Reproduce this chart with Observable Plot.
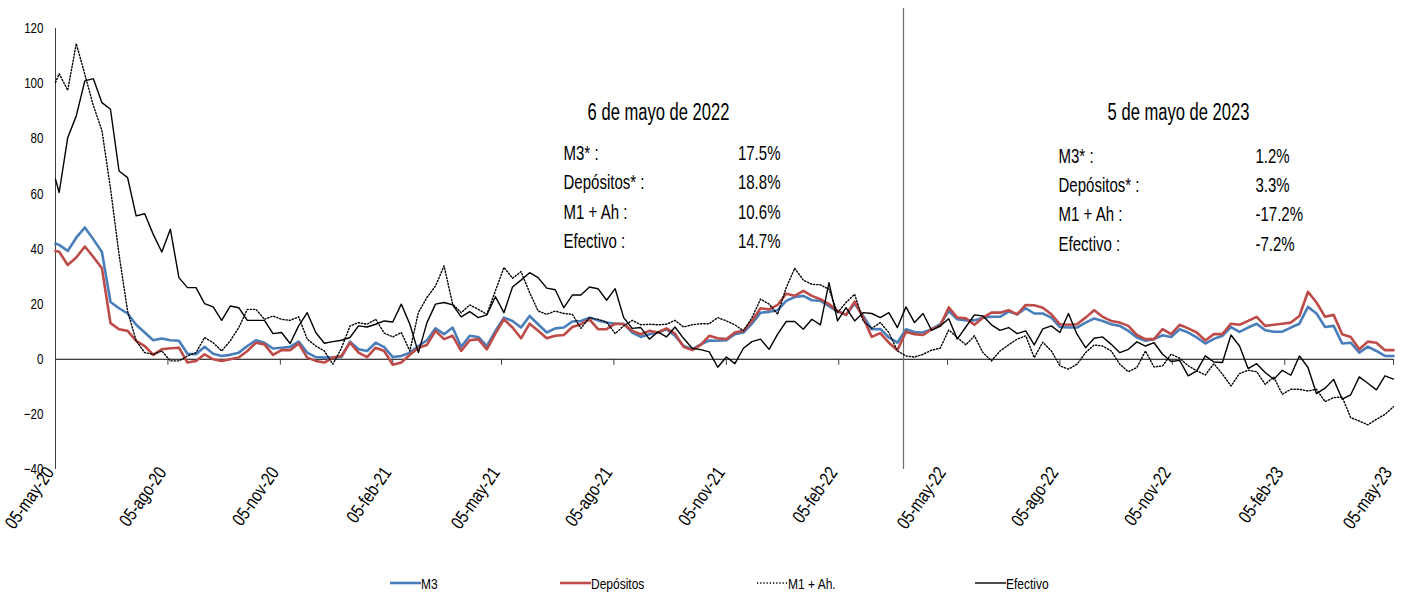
<!DOCTYPE html>
<html><head><meta charset="utf-8">
<script src="https://cdn.jsdelivr.net/npm/d3@7"></script>
<script src="https://cdn.jsdelivr.net/npm/@observablehq/plot@0.6"></script>
<style>
body{margin:0;background:#fff;}
#wrap{position:relative;width:1408px;height:594px;font-family:"Liberation Sans Narrow","Arial Narrow","Liberation Sans",Arial,sans-serif;background:#fff;}
#legend{position:absolute;left:0;top:566px;width:1408px;height:34px;}
.item{position:absolute;top:0;height:34px;display:flex;align-items:center;font-size:15px;color:#000;white-space:nowrap;}
.item span{display:inline-block;transform:scaleX(0.8);transform-origin:left center;}
#chart g[aria-label="x-axis tick label"], #chart g[aria-label="x-axis"] {font-size:18.5px;transform:translate(-5px,0);}
#chart g[aria-label="y-axis tick label"], #chart g[aria-label="y-axis"] {font-size:14.5px;}
</style></head><body><div id="wrap"><div id="chart"></div><div id="legend"></div></div>
<script>
// Weekly data (first point 05-may-20, then Fridays 08-may-20 ... 05-may-23), % annual change
const m3 = [
42, 41.5, 39.3, 44.1, 47.8, 43.5, 38.9, 20.8, 18.5, 16.6,
12.5, 9.7, 6.9, 7.5, 6.9, 6.7, 2, 1.8, 4.5, 2,
1.2, 1.6, 2.4, 4.8, 6.9, 6, 3.9, 4.2, 4.5, 6.4,
2.4, 0.8, 0.6, 0.6, 0.8, 6.4, 3.6, 3, 6, 4.4,
0.8, 1.2, 2.4, 4.8, 6.9, 11.2, 9.1, 11.5, 4.5, 8.5,
8.1, 4.8, 10.3, 15.1, 13.9, 11.5, 15.7, 12.7, 9.7, 11.2,
11.5, 13.7, 13.9, 15.1, 14.1, 13.3, 12.9, 12.9, 9.7, 8.1,
9.1, 9.7, 10.9, 8.5, 4.8, 3.6, 5.4, 6.8, 6.7, 6.9,
9.1, 9.7, 12.9, 16.9, 17.2, 17.8, 21.2, 22.6, 23, 21.4,
21.2, 19.3, 17.3, 16.1, 20.2, 15.7, 10.9, 11, 7.9, 6,
10.9, 9.9, 9.7, 10.9, 12.7, 17.5, 14.5, 14.1, 14.1, 15.1,
15.4, 15.4, 17.3, 16.3, 18.5, 16.6, 16.6, 15.1, 11.7, 11.5,
11.5, 13.3, 14.8, 13.9, 12.7, 12.1, 10.3, 7.9, 6.7, 7.3,
8.7, 8.1, 10.9, 9.7, 7.9, 5.7, 7.4, 8.5, 11.7, 9.9,
11.5, 12.9, 10.5, 10, 10, 11.5, 12.9, 19, 16.6, 11.7,
12.1, 5.7, 6, 2.4, 4.6, 3, 1.2, 1.2];
const depositos = [
39.3, 39, 34.2, 36.9, 40.9, 37.1, 33, 13.1, 10.9, 10.3,
6.7, 4.8, 1.6, 3.6, 4, 4.2, -1.2, -0.6, 1.8, 0,
-0.6, 0, 0.6, 3, 6, 5.4, 1.6, 3.3, 3.3, 5.7,
0.6, -0.6, -1.2, 0.6, 1.2, 6, 2.4, 0.8, 4.2, 3,
-2, -1.2, 1.6, 4.2, 5.2, 10.3, 7.3, 8.5, 3, 6.9,
7.3, 3.6, 9.3, 14.5, 11.5, 7.6, 12.9, 10.3, 7.6, 8.5,
8.8, 11.7, 12.7, 14.5, 10.9, 10.9, 12.9, 12.7, 10.3, 9.1,
10.3, 9.7, 11.2, 9.3, 4.5, 3.3, 5.2, 8.5, 7.6, 7.3,
9.7, 10.3, 13.9, 18.5, 18.1, 19.7, 23.8, 23, 24.8, 23,
21.8, 20, 17.5, 16.1, 20.9, 15.1, 8.1, 9.5, 6, 3.3,
10, 9.1, 8.8, 10.9, 12.1, 18.8, 15.1, 14.9, 12.5, 15.1,
16.9, 16.9, 17.8, 16.3, 19.7, 19.6, 18.7, 16.3, 12.7, 12.5,
12.7, 15.1, 17.8, 15.4, 13.9, 13.3, 12.1, 8.8, 7.3, 7.3,
10.9, 9.1, 12.5, 11.2, 9.7, 6.8, 9.1, 9.1, 12.9, 12.5,
13.9, 15.4, 12.1, 12.5, 12.9, 13.3, 15.7, 24.5, 20.6, 15.4,
16.1, 9.1, 8.1, 3.6, 6.4, 6, 3.3, 3.3];
const m1ah = [
100.4, 103.6, 97.6, 114.5, 103.4, 92, 83, 62, 38, 17.5,
6.7, 2.4, 1.8, 3, -0.6, -0.6, 1.2, 2.4, 7.9, 6,
3, 6.7, 11.5, 18.1, 18.1, 14.5, 15.7, 14.5, 14.1, 15.4,
7.3, 4.8, 3, -1.8, 4, 12.1, 13.3, 12.7, 14.5, 9.5,
8.1, 9.7, 3, 17, 22.4, 26.6, 33.9, 20, 16.9, 19.7,
18.1, 16.3, 24.8, 33.3, 29.4, 31.8, 24.2, 17.5, 16.3, 17.5,
16.6, 16.3, 11.2, 15.1, 14.5, 13.5, 9.3, 12.1, 14.1, 12.5,
12.7, 12.5, 12.7, 14.1, 11.7, 12.5, 12.9, 12.9, 15.1, 13.9,
12.5, 10.3, 15.1, 21.8, 20, 16.3, 26, 33, 28.7, 27.2,
27, 25.4, 16.9, 20.6, 23.6, 13.9, 11.2, 13.3, 9.7, 3,
1.2, 0.8, 1.8, 3.3, 4, 10.6, 7.9, 5.2, 8.5, 2.4,
-0.6, 3, 5.2, 7.3, 8.5, 0.6, 6.2, 3, -2.4, -3.6,
-1.8, 2.4, 5.2, 4.8, 3, -1.8, -4.5, -3, 3, -2.8,
-2.4, 1.8, 0.4, -2.4, -4.2, -5.7, -1.6, -5.4, -9.7, -5.2,
-4, -4.5, -9.1, -6.4, -12.7, -10.9, -10.9, -11.5, -10.9, -15.4,
-13.9, -13.7, -21.2, -22.4, -23.8, -21.8, -20, -17.2];
const efectivo = [
65.3, 60.5, 80.4, 88.3, 101, 101.8, 93.1, 90.7, 68.3, 65.9,
52, 52.8, 45.3, 38.9, 47.2, 29.6, 26, 26, 20.2, 19,
14.1, 19.3, 18.7, 14.1, 14.1, 14.1, 9.3, 9.7, 5.7, 12.1,
16.9, 9.7, 5.8, 6.4, 6.9, 7.9, 12.1, 11.7, 12.7, 13.9,
13.5, 20, 12.7, 2.4, 13.3, 20, 20.6, 19.7, 15.4, 17.3,
15.1, 16.1, 22.7, 16.9, 26.2, 28.7, 31.4, 29.6, 25.8, 25.2,
18.7, 23.3, 23.3, 26.2, 25.6, 21.4, 25.6, 15.1, 11.2, 11.5,
7.3, 9.9, 8.1, 11.7, 7.6, 4, 3.5, 2.7, -2.9, 0.8,
-1.6, 4, 6.4, 7.3, 3.6, 9.1, 13.7, 13.7, 10.9, 14.5,
12.5, 27.8, 13.9, 18.7, 13.9, 16.9, 16.6, 15.1, 16.9, 11.5,
19, 13.3, 16.6, 10.5, 12.1, 14.7, 7.3, 11.7, 16.1, 15.7,
12.5, 10.5, 11.5, 9.3, 10.3, 5.2, 11, 12.1, 9.7, 16.6,
9.1, 4.2, 7.6, 8.1, 5.4, 2.4, 3.6, 6.3, 4.8, 6,
1.8, -0.8, -0.4, -6, -4.2, 1.2, -1, -1.2, 8.8, 4.8,
-3.4, -1.6, -4.8, -7.3, -4, -5.8, 1.2, -3, -12.5, -10.5,
-7.3, -14.5, -12.9, -6.4, -8.7, -11.1, -6, -7.2];

const firstDate = "2020-05-05";
const firstFriday = "2020-05-08";
const xDomain = ["2020-05-05", "2023-05-05"];
const xTickDates = ["2020-05-05","2020-08-05","2020-11-05","2021-02-05","2021-05-05","2021-08-05",
  "2021-11-05","2022-02-05","2022-05-05","2022-08-05","2022-11-05","2023-02-05","2023-05-05"];
const meses = ["ene","feb","mar","abr","may","jun","jul","ago","sep","oct","nov","dic"];
const yTicks = [-40, -20, 0, 20, 40, 60, 80, 100, 120];
const dividerDate = "2022-03-30";

const seriesNames = ["M3", "Depósitos", "M1 + Ah.", "Efectivo"];
const seriesColors = ["#4A7EBB", "#BE4B48", "#000000", "#000000"];

const annLabels2022 = ["M3* :", "Depósitos* :", "M1 + Ah :", "Efectivo :"];
const annLabels2023 = ["M3* :", "Depósitos* :", "M1 + Ah :", "Efectivo :"];
const annValues2022 = [17.5, 18.8, 10.6, 14.7];
const annValues2023 = [1.2, 3.3, -17.2, -7.2];
const annTitle2022 = "6 de mayo de 2022";
const annTitle2023 = "5 de mayo de 2023";

// build table
const parse = s => new Date(s + "T00:00:00Z");
const f0 = parse(firstFriday);
const dates = [parse(firstDate)];
for (let k = 1; k < m3.length; k++) dates.push(new Date(f0.getTime() + (k - 1) * 7 * 864e5));
const rows = dates.map((d, i) => ({date: d, m3: m3[i], dep: depositos[i], m1: m1ah[i], ef: efectivo[i]}));

const xTicks = xTickDates.map(parse);
const fmt = d => `${String(d.getUTCDate()).padStart(2, "0")}-${meses[d.getUTCMonth()]}-${String(d.getUTCFullYear()).slice(2)}`;
const fmtPct = v => v.toFixed(1) + "%";

const FONT = `"Liberation Sans Narrow","Arial Narrow","Liberation Sans",Arial,sans-serif`;
const ML = 55, MT = 28;
const LH1 = 29.5, LH2 = 29.3, FS = 21, FT = 23;

const chart = Plot.plot({
  width: 1408,
  height: 566,
  marginTop: MT,
  marginBottom: 97,
  marginLeft: ML,
  marginRight: 15,
  style: {fontFamily: FONT, fontSize: "14.5px", background: "white", color: "#000", overflow: "visible"},
  x: {type: "utc", domain: xDomain.map(parse), ticks: xTicks, tickFormat: fmt, tickRotate: -55, tickSize: 0, tickPadding: 3, label: null},
  y: {domain: [-40, 120], ticks: yTicks, tickSize: 0, tickPadding: 12, label: null},
  marks: [
    Plot.ruleX([parse(xDomain[0])], {stroke: "#404040"}),
    Plot.ruleY([0], {stroke: "#000"}),
    Plot.ruleX(xTicks, {y1: 0, y2: 0, insetBottom: -6, stroke: "#404040"}),
    Plot.ruleX([parse(dividerDate)], {stroke: "#6b6b6b", strokeWidth: 1.2, insetTop: -20}),
    Plot.lineY(rows, {x: "date", y: "m3", stroke: seriesColors[0], strokeWidth: 2.6}),
    Plot.lineY(rows, {x: "date", y: "dep", stroke: seriesColors[1], strokeWidth: 2.6}),
    Plot.lineY(rows, {x: "date", y: "m1", stroke: seriesColors[2], strokeWidth: 1.4, strokeDasharray: "1.3,1.9"}),
    Plot.lineY(rows, {x: "date", y: "ef", stroke: seriesColors[3], strokeWidth: 1.4}),
    // annotations 2022
    Plot.text([annTitle2022], {frameAnchor: "top-left", lineAnchor: "middle", dx: 658 - ML, dy: 112 - MT, textAnchor: "middle", fontSize: FT}),
    Plot.text([annLabels2022.join("\n")], {frameAnchor: "top-left", lineAnchor: "middle", dx: 563 - ML, dy: 150 + 1.5 * LH1 - MT, textAnchor: "start", fontSize: FS, lineHeight: LH1 / FS}),
    Plot.text([annValues2022.map(fmtPct).join("\n")], {frameAnchor: "top-left", lineAnchor: "middle", dx: 780 - ML, dy: 150 + 1.5 * LH1 - MT, textAnchor: "end", fontSize: FS, lineHeight: LH1 / FS}),
    // annotations 2023
    Plot.text([annTitle2023], {frameAnchor: "top-left", lineAnchor: "middle", dx: 1178 - ML, dy: 112 - MT, textAnchor: "middle", fontSize: FT}),
    Plot.text([annLabels2023.join("\n")], {frameAnchor: "top-left", lineAnchor: "middle", dx: 1058 - ML, dy: 153 + 1.5 * LH2 - MT, textAnchor: "start", fontSize: FS, lineHeight: LH2 / FS}),
    Plot.text([annValues2023.map(fmtPct).join("\n")], {frameAnchor: "top-left", lineAnchor: "middle", dx: 1255 - ML, dy: 153 + 1.5 * LH2 - MT, textAnchor: "start", fontSize: FS, lineHeight: LH2 / FS})
  ]
});
document.getElementById("chart").appendChild(chart);

// emulate the narrow (Calibri-like) face of the original: compress glyphs along the baseline
const squishFor = fs => fs >= FT ? 0.72 : fs >= FS ? 0.715 : 0.8;
chart.querySelectorAll("text").forEach(t => {
  const fs = parseFloat(getComputedStyle(t).fontSize);
  const k = squishFor(fs);
  const spans = t.querySelectorAll("tspan");
  const targets = spans.length ? [...spans] : [t];
  targets.forEach(el => {
    const len = el.getComputedTextLength();
    if (len > 0) {
      el.setAttribute("textLength", (len * k).toFixed(2));
      el.setAttribute("lengthAdjust", "spacingAndGlyphs");
    }
  });
});

// legend
const legendLeft = [390, 560, 757, 975];
const legend = document.getElementById("legend");
seriesNames.forEach((name, i) => {
  const item = document.createElement("div");
  item.className = "item";
  item.style.left = legendLeft[i] + "px";
  const dash = i === 2 ? 'stroke-dasharray="1.3,1.9"' : "";
  const sw = i < 2 ? 2.6 : 1.4;
  item.innerHTML = `<svg width="31" height="10"><line x1="0" x2="31" y1="5" y2="5" stroke="${seriesColors[i]}" stroke-width="${sw}" ${dash}/></svg><span>${name}</span>`;
  legend.appendChild(item);
});
</script></body></html>
